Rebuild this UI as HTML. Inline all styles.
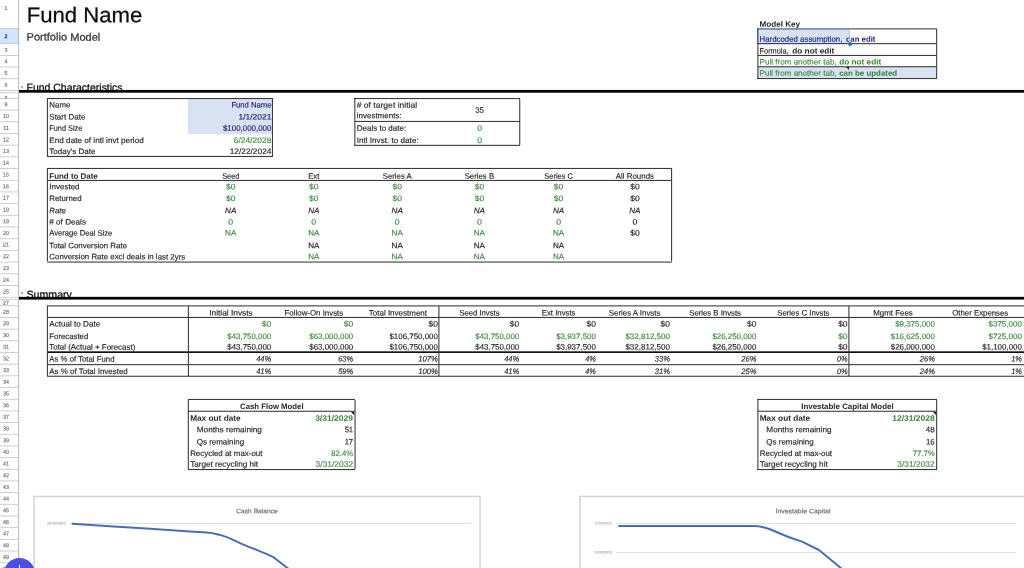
<!DOCTYPE html>
<html lang="en">
<head>
<meta charset="utf-8">
<title>Fund Name - Portfolio Model</title>
<style>
html,body{margin:0;padding:0;background:#fff;}
body{width:1024px;height:568px;position:relative;overflow:hidden;font-family:"Liberation Sans", sans-serif;}
#sheet{position:absolute;left:0;top:0;width:1024px;height:568px;overflow:hidden;background:#fff;}
#sheet div{position:absolute;}
#sheet svg{position:absolute;overflow:visible;}
.t{white-space:nowrap;transform-origin:0 0;-webkit-text-stroke:0.15px currentColor;}
</style>
</head>
<body>
<div id="sheet">
<div style="left:0.00px;top:29.00px;width:18.00px;height:15.00px;background:#d3e3fd;"></div>
<div style="left:0.00px;top:28.00px;width:18.00px;height:1.00px;background:rgba(198,198,198,0.850);"></div>
<div style="left:0.00px;top:43.00px;width:18.00px;height:1.00px;background:rgba(198,198,198,0.725);"></div>
<div style="left:0.00px;top:44.00px;width:18.00px;height:1.00px;background:rgba(198,198,198,0.125);"></div>
<div style="left:0.00px;top:55.00px;width:18.00px;height:1.00px;background:rgba(198,198,198,0.825);"></div>
<div style="left:0.00px;top:66.00px;width:18.00px;height:1.00px;background:rgba(198,198,198,0.425);"></div>
<div style="left:0.00px;top:67.00px;width:18.00px;height:1.00px;background:rgba(198,198,198,0.425);"></div>
<div style="left:0.00px;top:78.00px;width:18.00px;height:1.00px;background:rgba(198,198,198,0.725);"></div>
<div style="left:0.00px;top:79.00px;width:18.00px;height:1.00px;background:rgba(198,198,198,0.125);"></div>
<div style="left:0.00px;top:90.00px;width:18.00px;height:1.00px;background:rgba(198,198,198,0.850);"></div>
<div style="left:0.00px;top:92.00px;width:18.00px;height:1.00px;background:rgba(198,198,198,0.625);"></div>
<div style="left:0.00px;top:93.00px;width:18.00px;height:1.00px;background:rgba(198,198,198,0.225);"></div>
<div style="left:0.00px;top:98.00px;width:18.00px;height:1.00px;background:rgba(198,198,198,0.825);"></div>
<div style="left:0.00px;top:109.00px;width:18.00px;height:1.00px;background:rgba(198,198,198,0.335);"></div>
<div style="left:0.00px;top:110.00px;width:18.00px;height:1.00px;background:rgba(198,198,198,0.515);"></div>
<div style="left:0.00px;top:121.00px;width:18.00px;height:1.00px;background:rgba(198,198,198,0.645);"></div>
<div style="left:0.00px;top:122.00px;width:18.00px;height:1.00px;background:rgba(198,198,198,0.205);"></div>
<div style="left:0.00px;top:133.00px;width:18.00px;height:1.00px;background:rgba(198,198,198,0.850);"></div>
<div style="left:0.00px;top:144.00px;width:18.00px;height:1.00px;background:rgba(198,198,198,0.265);"></div>
<div style="left:0.00px;top:145.00px;width:18.00px;height:1.00px;background:rgba(198,198,198,0.585);"></div>
<div style="left:0.00px;top:156.00px;width:18.00px;height:1.00px;background:rgba(198,198,198,0.575);"></div>
<div style="left:0.00px;top:157.00px;width:18.00px;height:1.00px;background:rgba(198,198,198,0.275);"></div>
<div style="left:0.00px;top:168.00px;width:18.00px;height:1.00px;background:rgba(198,198,198,0.850);"></div>
<div style="left:0.00px;top:179.00px;width:18.00px;height:1.00px;background:rgba(198,198,198,0.195);"></div>
<div style="left:0.00px;top:180.00px;width:18.00px;height:1.00px;background:rgba(198,198,198,0.655);"></div>
<div style="left:0.00px;top:191.00px;width:18.00px;height:1.00px;background:rgba(198,198,198,0.505);"></div>
<div style="left:0.00px;top:192.00px;width:18.00px;height:1.00px;background:rgba(198,198,198,0.345);"></div>
<div style="left:0.00px;top:203.00px;width:18.00px;height:1.00px;background:rgba(198,198,198,0.815);"></div>
<div style="left:0.00px;top:214.00px;width:18.00px;height:1.00px;background:rgba(198,198,198,0.125);"></div>
<div style="left:0.00px;top:215.00px;width:18.00px;height:1.00px;background:rgba(198,198,198,0.725);"></div>
<div style="left:0.00px;top:226.00px;width:18.00px;height:1.00px;background:rgba(198,198,198,0.435);"></div>
<div style="left:0.00px;top:227.00px;width:18.00px;height:1.00px;background:rgba(198,198,198,0.415);"></div>
<div style="left:0.00px;top:238.00px;width:18.00px;height:1.00px;background:rgba(198,198,198,0.745);"></div>
<div style="left:0.00px;top:239.00px;width:18.00px;height:1.00px;background:rgba(198,198,198,0.105);"></div>
<div style="left:0.00px;top:249.00px;width:18.00px;height:1.00px;background:rgba(198,198,198,0.055);"></div>
<div style="left:0.00px;top:250.00px;width:18.00px;height:1.00px;background:rgba(198,198,198,0.795);"></div>
<div style="left:0.00px;top:261.00px;width:18.00px;height:1.00px;background:rgba(198,198,198,0.365);"></div>
<div style="left:0.00px;top:262.00px;width:18.00px;height:1.00px;background:rgba(198,198,198,0.485);"></div>
<div style="left:0.00px;top:273.00px;width:18.00px;height:1.00px;background:rgba(198,198,198,0.675);"></div>
<div style="left:0.00px;top:274.00px;width:18.00px;height:1.00px;background:rgba(198,198,198,0.175);"></div>
<div style="left:0.00px;top:285.00px;width:18.00px;height:1.00px;background:rgba(198,198,198,0.850);"></div>
<div style="left:0.00px;top:296.00px;width:18.00px;height:1.00px;background:rgba(198,198,198,0.125);"></div>
<div style="left:0.00px;top:297.00px;width:18.00px;height:1.00px;background:rgba(198,198,198,0.725);"></div>
<div style="left:0.00px;top:299.00px;width:18.00px;height:1.00px;background:rgba(198,198,198,0.825);"></div>
<div style="left:0.00px;top:305.00px;width:18.00px;height:1.00px;background:rgba(198,198,198,0.675);"></div>
<div style="left:0.00px;top:306.00px;width:18.00px;height:1.00px;background:rgba(198,198,198,0.175);"></div>
<div style="left:0.00px;top:317.00px;width:18.00px;height:1.00px;background:rgba(198,198,198,0.850);"></div>
<div style="left:0.00px;top:328.00px;width:18.00px;height:1.00px;background:rgba(198,198,198,0.315);"></div>
<div style="left:0.00px;top:329.00px;width:18.00px;height:1.00px;background:rgba(198,198,198,0.535);"></div>
<div style="left:0.00px;top:340.00px;width:18.00px;height:1.00px;background:rgba(198,198,198,0.635);"></div>
<div style="left:0.00px;top:341.00px;width:18.00px;height:1.00px;background:rgba(198,198,198,0.215);"></div>
<div style="left:0.00px;top:352.00px;width:18.00px;height:1.00px;background:rgba(198,198,198,0.850);"></div>
<div style="left:0.00px;top:363.00px;width:18.00px;height:1.00px;background:rgba(198,198,198,0.275);"></div>
<div style="left:0.00px;top:364.00px;width:18.00px;height:1.00px;background:rgba(198,198,198,0.575);"></div>
<div style="left:0.00px;top:375.00px;width:18.00px;height:1.00px;background:rgba(198,198,198,0.595);"></div>
<div style="left:0.00px;top:376.00px;width:18.00px;height:1.00px;background:rgba(198,198,198,0.255);"></div>
<div style="left:0.00px;top:387.00px;width:18.00px;height:1.00px;background:rgba(198,198,198,0.850);"></div>
<div style="left:0.00px;top:398.00px;width:18.00px;height:1.00px;background:rgba(198,198,198,0.235);"></div>
<div style="left:0.00px;top:399.00px;width:18.00px;height:1.00px;background:rgba(198,198,198,0.615);"></div>
<div style="left:0.00px;top:410.00px;width:18.00px;height:1.00px;background:rgba(198,198,198,0.555);"></div>
<div style="left:0.00px;top:411.00px;width:18.00px;height:1.00px;background:rgba(198,198,198,0.295);"></div>
<div style="left:0.00px;top:422.00px;width:18.00px;height:1.00px;background:rgba(198,198,198,0.850);"></div>
<div style="left:0.00px;top:433.00px;width:18.00px;height:1.00px;background:rgba(198,198,198,0.195);"></div>
<div style="left:0.00px;top:434.00px;width:18.00px;height:1.00px;background:rgba(198,198,198,0.655);"></div>
<div style="left:0.00px;top:445.00px;width:18.00px;height:1.00px;background:rgba(198,198,198,0.515);"></div>
<div style="left:0.00px;top:446.00px;width:18.00px;height:1.00px;background:rgba(198,198,198,0.335);"></div>
<div style="left:0.00px;top:457.00px;width:18.00px;height:1.00px;background:rgba(198,198,198,0.835);"></div>
<div style="left:0.00px;top:468.00px;width:18.00px;height:1.00px;background:rgba(198,198,198,0.155);"></div>
<div style="left:0.00px;top:469.00px;width:18.00px;height:1.00px;background:rgba(198,198,198,0.695);"></div>
<div style="left:0.00px;top:480.00px;width:18.00px;height:1.00px;background:rgba(198,198,198,0.475);"></div>
<div style="left:0.00px;top:481.00px;width:18.00px;height:1.00px;background:rgba(198,198,198,0.375);"></div>
<div style="left:0.00px;top:492.00px;width:18.00px;height:1.00px;background:rgba(198,198,198,0.795);"></div>
<div style="left:0.00px;top:493.00px;width:18.00px;height:1.00px;background:rgba(198,198,198,0.055);"></div>
<div style="left:0.00px;top:503.00px;width:18.00px;height:1.00px;background:rgba(198,198,198,0.115);"></div>
<div style="left:0.00px;top:504.00px;width:18.00px;height:1.00px;background:rgba(198,198,198,0.735);"></div>
<div style="left:0.00px;top:515.00px;width:18.00px;height:1.00px;background:rgba(198,198,198,0.435);"></div>
<div style="left:0.00px;top:516.00px;width:18.00px;height:1.00px;background:rgba(198,198,198,0.415);"></div>
<div style="left:0.00px;top:527.00px;width:18.00px;height:1.00px;background:rgba(198,198,198,0.755);"></div>
<div style="left:0.00px;top:528.00px;width:18.00px;height:1.00px;background:rgba(198,198,198,0.095);"></div>
<div style="left:0.00px;top:538.00px;width:18.00px;height:1.00px;background:rgba(198,198,198,0.075);"></div>
<div style="left:0.00px;top:539.00px;width:18.00px;height:1.00px;background:rgba(198,198,198,0.775);"></div>
<div style="left:0.00px;top:550.00px;width:18.00px;height:1.00px;background:rgba(198,198,198,0.395);"></div>
<div style="left:0.00px;top:551.00px;width:18.00px;height:1.00px;background:rgba(198,198,198,0.455);"></div>
<div style="left:0.00px;top:562.00px;width:18.00px;height:1.00px;background:rgba(198,198,198,0.715);"></div>
<div style="left:0.00px;top:563.00px;width:18.00px;height:1.00px;background:rgba(198,198,198,0.135);"></div>
<div style="left:18.00px;top:0.00px;width:1.00px;height:568.00px;background:rgba(180,180,180,0.875);"></div>
<div style="left:19.00px;top:0.00px;width:1.00px;height:568.00px;background:rgba(180,180,180,0.075);"></div>
<div class="t" style="left:4px;top:5px;font-size:5.8px;line-height:6px;color:#707070;transform:translate(0.60px,0.10px) rotate(0.04deg) scaleX(0.93);">1</div>
<div class="t" style="left:4px;top:33px;font-size:5.8px;line-height:6px;color:#0b2a5b;font-weight:bold;-webkit-text-stroke:0;transform:translate(0.60px,0.20px) rotate(0.04deg) scaleX(0.93);">2</div>
<div class="t" style="left:4px;top:46px;font-size:5.8px;line-height:6px;color:#707070;transform:translate(0.60px,0.65px) rotate(0.04deg) scaleX(0.93);">3</div>
<div class="t" style="left:4px;top:58px;font-size:5.8px;line-height:6px;color:#707070;transform:translate(0.60px,0.30px) rotate(0.04deg) scaleX(0.93);">4</div>
<div class="t" style="left:4px;top:69px;font-size:5.8px;line-height:6px;color:#707070;transform:translate(0.60px,0.95px) rotate(0.04deg) scaleX(0.93);">5</div>
<div class="t" style="left:4px;top:81px;font-size:5.8px;line-height:6px;color:#707070;transform:translate(0.60px,0.70px) rotate(0.04deg) scaleX(0.93);">6</div>
<div class="t" style="left:4px;top:94px;font-size:5.8px;line-height:6px;color:#707070;transform:translate(0.60px,0.70px) rotate(0.04deg) scaleX(0.93);clip-path:inset(0 0 2px 0);">8</div>
<div class="t" style="left:4px;top:101px;font-size:5.8px;line-height:6px;color:#707070;transform:translate(0.60px,0.35px) rotate(0.04deg) scaleX(0.93);">9</div>
<div class="t" style="left:3px;top:113px;font-size:5.8px;line-height:6px;color:#707070;transform:translate(0.10px,0.04px) rotate(0.04deg) scaleX(0.93);">10</div>
<div class="t" style="left:3px;top:124px;font-size:5.8px;line-height:6px;color:#707070;transform:translate(0.30px,0.72px) rotate(0.04deg) scaleX(0.93);">11</div>
<div class="t" style="left:3px;top:136px;font-size:5.8px;line-height:6px;color:#707070;transform:translate(0.10px,0.41px) rotate(0.04deg) scaleX(0.93);">12</div>
<div class="t" style="left:3px;top:148px;font-size:5.8px;line-height:6px;color:#707070;transform:translate(0.10px,0.10px) rotate(0.04deg) scaleX(0.93);">13</div>
<div class="t" style="left:3px;top:159px;font-size:5.8px;line-height:6px;color:#707070;transform:translate(0.10px,0.79px) rotate(0.04deg) scaleX(0.93);">14</div>
<div class="t" style="left:3px;top:171px;font-size:5.8px;line-height:6px;color:#707070;transform:translate(0.10px,0.49px) rotate(0.04deg) scaleX(0.93);">15</div>
<div class="t" style="left:3px;top:183px;font-size:5.8px;line-height:6px;color:#707070;transform:translate(0.10px,0.18px) rotate(0.04deg) scaleX(0.93);">16</div>
<div class="t" style="left:3px;top:194px;font-size:5.8px;line-height:6px;color:#707070;transform:translate(0.10px,0.87px) rotate(0.04deg) scaleX(0.93);">17</div>
<div class="t" style="left:3px;top:206px;font-size:5.8px;line-height:6px;color:#707070;transform:translate(0.10px,0.56px) rotate(0.04deg) scaleX(0.93);">18</div>
<div class="t" style="left:3px;top:218px;font-size:5.8px;line-height:6px;color:#707070;transform:translate(0.10px,0.25px) rotate(0.04deg) scaleX(0.93);">19</div>
<div class="t" style="left:3px;top:229px;font-size:5.8px;line-height:6px;color:#707070;transform:translate(0.10px,0.94px) rotate(0.04deg) scaleX(0.93);">20</div>
<div class="t" style="left:3px;top:241px;font-size:5.8px;line-height:6px;color:#707070;transform:translate(0.10px,0.62px) rotate(0.04deg) scaleX(0.93);">21</div>
<div class="t" style="left:3px;top:253px;font-size:5.8px;line-height:6px;color:#707070;transform:translate(0.10px,0.31px) rotate(0.04deg) scaleX(0.93);">22</div>
<div class="t" style="left:3px;top:265px;font-size:5.8px;line-height:6px;color:#707070;transform:translate(0.10px,0.00px) rotate(0.04deg) scaleX(0.93);">23</div>
<div class="t" style="left:3px;top:276px;font-size:5.8px;line-height:6px;color:#707070;transform:translate(0.10px,0.69px) rotate(0.04deg) scaleX(0.93);">24</div>
<div class="t" style="left:3px;top:288px;font-size:5.8px;line-height:6px;color:#707070;transform:translate(0.10px,0.47px) rotate(0.04deg) scaleX(0.93);">25</div>
<div class="t" style="left:3px;top:299px;font-size:5.8px;line-height:6px;color:#707070;transform:translate(0.10px,0.65px) rotate(0.04deg) scaleX(0.93);">27</div>
<div class="t" style="left:3px;top:308px;font-size:5.8px;line-height:6px;color:#707070;transform:translate(0.10px,0.69px) rotate(0.04deg) scaleX(0.93);">28</div>
<div class="t" style="left:3px;top:320px;font-size:5.8px;line-height:6px;color:#707070;transform:translate(0.10px,0.37px) rotate(0.04deg) scaleX(0.93);">29</div>
<div class="t" style="left:3px;top:332px;font-size:5.8px;line-height:6px;color:#707070;transform:translate(0.10px,0.05px) rotate(0.04deg) scaleX(0.93);">30</div>
<div class="t" style="left:3px;top:343px;font-size:5.8px;line-height:6px;color:#707070;transform:translate(0.10px,0.73px) rotate(0.04deg) scaleX(0.93);">31</div>
<div class="t" style="left:3px;top:355px;font-size:5.8px;line-height:6px;color:#707070;transform:translate(0.10px,0.41px) rotate(0.04deg) scaleX(0.93);">32</div>
<div class="t" style="left:3px;top:367px;font-size:5.8px;line-height:6px;color:#707070;transform:translate(0.10px,0.09px) rotate(0.04deg) scaleX(0.93);">33</div>
<div class="t" style="left:3px;top:378px;font-size:5.8px;line-height:6px;color:#707070;transform:translate(0.10px,0.77px) rotate(0.04deg) scaleX(0.93);">34</div>
<div class="t" style="left:3px;top:390px;font-size:5.8px;line-height:6px;color:#707070;transform:translate(0.10px,0.45px) rotate(0.04deg) scaleX(0.93);">35</div>
<div class="t" style="left:3px;top:402px;font-size:5.8px;line-height:6px;color:#707070;transform:translate(0.10px,0.13px) rotate(0.04deg) scaleX(0.93);">36</div>
<div class="t" style="left:3px;top:413px;font-size:5.8px;line-height:6px;color:#707070;transform:translate(0.10px,0.81px) rotate(0.04deg) scaleX(0.93);">37</div>
<div class="t" style="left:3px;top:425px;font-size:5.8px;line-height:6px;color:#707070;transform:translate(0.10px,0.49px) rotate(0.04deg) scaleX(0.93);">38</div>
<div class="t" style="left:3px;top:437px;font-size:5.8px;line-height:6px;color:#707070;transform:translate(0.10px,0.17px) rotate(0.04deg) scaleX(0.93);">39</div>
<div class="t" style="left:3px;top:448px;font-size:5.8px;line-height:6px;color:#707070;transform:translate(0.10px,0.85px) rotate(0.04deg) scaleX(0.93);">40</div>
<div class="t" style="left:3px;top:460px;font-size:5.8px;line-height:6px;color:#707070;transform:translate(0.10px,0.53px) rotate(0.04deg) scaleX(0.93);">41</div>
<div class="t" style="left:3px;top:472px;font-size:5.8px;line-height:6px;color:#707070;transform:translate(0.10px,0.21px) rotate(0.04deg) scaleX(0.93);">42</div>
<div class="t" style="left:3px;top:483px;font-size:5.8px;line-height:6px;color:#707070;transform:translate(0.10px,0.89px) rotate(0.04deg) scaleX(0.93);">43</div>
<div class="t" style="left:3px;top:495px;font-size:5.8px;line-height:6px;color:#707070;transform:translate(0.10px,0.57px) rotate(0.04deg) scaleX(0.93);">44</div>
<div class="t" style="left:3px;top:507px;font-size:5.8px;line-height:6px;color:#707070;transform:translate(0.10px,0.25px) rotate(0.04deg) scaleX(0.93);">45</div>
<div class="t" style="left:3px;top:518px;font-size:5.8px;line-height:6px;color:#707070;transform:translate(0.10px,0.93px) rotate(0.04deg) scaleX(0.93);">46</div>
<div class="t" style="left:3px;top:530px;font-size:5.8px;line-height:6px;color:#707070;transform:translate(0.10px,0.61px) rotate(0.04deg) scaleX(0.93);">47</div>
<div class="t" style="left:3px;top:542px;font-size:5.8px;line-height:6px;color:#707070;transform:translate(0.10px,0.29px) rotate(0.04deg) scaleX(0.93);">48</div>
<div class="t" style="left:3px;top:553px;font-size:5.8px;line-height:6px;color:#707070;transform:translate(0.10px,0.97px) rotate(0.04deg) scaleX(0.93);">49</div>
<div class="t" style="left:3px;top:565px;font-size:5.8px;line-height:6px;color:#707070;transform:translate(0.10px,0.65px) rotate(0.04deg) scaleX(0.93);">50</div>
<div class="t" style="left:26px;top:3px;font-size:21.4px;line-height:24px;color:#0c0c0c;transform:translate(0.70px,0.20px) rotate(0.04deg) scaleX(1.0342);-webkit-text-stroke:0.25px #0c0c0c;">Fund Name</div>
<div class="t" style="left:26px;top:30px;font-size:10.7px;line-height:12px;color:#3c3c3c;transform:translate(0.50px,0.60px) rotate(0.04deg) scaleX(1.0357);-webkit-text-stroke:0.3px #3c3c3c;">Portfolio Model</div>
<div style="left:19px;top:78px;width:400px;height:12px;overflow:hidden;"><div class="t" style="left:7px;top:3px;font-size:10.5px;line-height:12px;color:#0c0c0c;-webkit-text-stroke:0.25px #0c0c0c;transform:translate(0.5px,0.00px) rotate(0.04deg) scaleX(0.998);">Fund Characteristics</div><div style="left:2.0px;top:8px;width:2.4px;height:2.4px;background:#acacac;"></div></div>
<div style="left:19.00px;top:89.00px;width:1005.00px;height:1.00px;background:rgba(0,0,0,0.050);"></div>
<div style="left:19.00px;top:90.00px;width:1005.00px;height:1.00px;background:rgba(0,0,0,1.000);"></div>
<div style="left:19.00px;top:91.00px;width:1005.00px;height:1.00px;background:rgba(0,0,0,1.000);"></div>
<div style="left:19.00px;top:92.00px;width:1005.00px;height:1.00px;background:rgba(0,0,0,0.700);"></div>
<div style="left:19px;top:285px;width:400px;height:12px;overflow:hidden;"><div class="t" style="left:7px;top:2px;font-size:10.5px;line-height:12px;color:#0c0c0c;-webkit-text-stroke:0.25px #0c0c0c;transform:translate(0.5px,0.90px) rotate(0.04deg) scaleX(1.0103);">Summary</div><div style="left:2.0px;top:7px;width:2.4px;height:2.4px;background:#acacac;"></div></div>
<div style="left:19.00px;top:296.00px;width:1005.00px;height:1.00px;background:rgba(0,0,0,0.150);"></div>
<div style="left:19.00px;top:297.00px;width:1005.00px;height:1.00px;background:rgba(0,0,0,1.000);"></div>
<div style="left:19.00px;top:298.00px;width:1005.00px;height:1.00px;background:rgba(0,0,0,1.000);"></div>
<div style="left:19.00px;top:299.00px;width:1005.00px;height:1.00px;background:rgba(0,0,0,0.600);"></div>
<div class="t" style="left:759px;top:19px;font-size:7.9px;line-height:9px;color:#262626;font-weight:bold;-webkit-text-stroke:0;transform:translate(0.60px,0.80px) rotate(0.04deg) scaleX(1.0255);">Model Key</div>
<div style="left:758.00px;top:29.00px;width:91.00px;height:15.00px;background:#d9e2f3;"></div>
<div style="left:758.00px;top:67.00px;width:179.00px;height:11.50px;background:#d9e2f3;"></div>
<div style="left:757.00px;top:28.00px;width:180.00px;height:1.00px;background:rgba(52,52,52,0.625);"></div>
<div style="left:757.00px;top:29.00px;width:180.00px;height:1.00px;background:rgba(52,52,52,0.425);"></div>
<div style="left:757.00px;top:78.00px;width:180.00px;height:1.00px;background:rgba(52,52,52,0.975);"></div>
<div style="left:757.00px;top:79.00px;width:180.00px;height:1.00px;background:rgba(52,52,52,0.075);"></div>
<div style="left:757.00px;top:29.00px;width:1.00px;height:49.00px;background:rgba(52,52,52,0.625);"></div>
<div style="left:758.00px;top:29.00px;width:1.00px;height:49.00px;background:rgba(52,52,52,0.425);"></div>
<div style="left:936.00px;top:29.00px;width:1.00px;height:49.00px;background:rgba(52,52,52,0.875);"></div>
<div style="left:937.00px;top:29.00px;width:1.00px;height:49.00px;background:rgba(52,52,52,0.175);"></div>
<div style="left:758.00px;top:43.00px;width:178.00px;height:1.00px;background:rgba(52,52,52,0.875);"></div>
<div style="left:758.00px;top:44.00px;width:178.00px;height:1.00px;background:rgba(52,52,52,0.175);"></div>
<div style="left:758.00px;top:54.00px;width:178.00px;height:1.00px;background:rgba(52,52,52,0.075);"></div>
<div style="left:758.00px;top:55.00px;width:178.00px;height:1.00px;background:rgba(52,52,52,0.975);"></div>
<div style="left:758.00px;top:66.00px;width:178.00px;height:1.00px;background:rgba(52,52,52,0.775);"></div>
<div style="left:758.00px;top:67.00px;width:178.00px;height:1.00px;background:rgba(52,52,52,0.275);"></div>
<div class="t" style="left:759px;top:34px;font-size:7.9px;line-height:9px;color:#20207c;transform:translate(0.60px,0.70px) rotate(0.04deg) scaleX(0.9932);">Hardcoded assumption,</div>
<div class="t" style="left:846px;top:34px;font-size:7.9px;line-height:9px;color:#20207c;font-weight:bold;-webkit-text-stroke:0;transform:translate(0.00px,0.70px) rotate(0.04deg) scaleX(0.9881);">can edit</div>
<div class="t" style="left:759px;top:46px;font-size:7.9px;line-height:9px;color:#262626;transform:translate(0.60px,0.50px) rotate(0.04deg) scaleX(0.9304);">Formula,</div>
<div class="t" style="left:792px;top:46px;font-size:7.9px;line-height:9px;color:#262626;font-weight:bold;-webkit-text-stroke:0;transform:translate(0.30px,0.50px) rotate(0.04deg) scaleX(1.0408);">do not edit</div>
<div class="t" style="left:759px;top:57px;font-size:7.9px;line-height:9px;color:#408c40;transform:translate(0.60px,0.50px) rotate(0.04deg) scaleX(1.0215);">Pull from another tab,</div>
<div class="t" style="left:839px;top:57px;font-size:7.9px;line-height:9px;color:#348334;font-weight:bold;-webkit-text-stroke:0;transform:translate(0.20px,0.50px) rotate(0.04deg) scaleX(1.0408);">do not edit</div>
<div class="t" style="left:759px;top:68px;font-size:7.9px;line-height:9px;color:#408c40;transform:translate(0.60px,0.80px) rotate(0.04deg) scaleX(1.0215);">Pull from another tab,</div>
<div class="t" style="left:839px;top:68px;font-size:7.9px;line-height:9px;color:#348334;font-weight:bold;-webkit-text-stroke:0;transform:translate(0.20px,0.80px) rotate(0.04deg) scaleX(1.0017);">can be updated</div>
<svg style="left:845.8px;top:67.2px" width="3" height="3" viewBox="0 0 3 3"><polygon points="0,0 3,0 3,3" fill="#222"/></svg>
<div style="left:758.00px;top:28.00px;width:91.00px;height:1.00px;background:#7d8fc4;"></div>
<div style="left:757.00px;top:28.00px;width:1.00px;height:16.00px;background:#3c5fc0;"></div>
<div style="left:849.00px;top:29.00px;width:1.00px;height:14.00px;background:#b9c6ea;"></div>
<div style="left:757.00px;top:43.00px;width:92.00px;height:1.00px;background:#2a3f9c;"></div>
<div style="left:847.6px;top:41.7px;width:4.6px;height:4.6px;border-radius:50%;background:#2c6ad9;"></div>
<div style="left:188.00px;top:99.00px;width:84.00px;height:34.60px;background:#d9e2f3;"></div>
<div style="left:47.00px;top:98.00px;width:226.00px;height:1.00px;background:rgba(52,52,52,0.975);"></div>
<div style="left:47.00px;top:99.00px;width:226.00px;height:1.00px;background:rgba(52,52,52,0.075);"></div>
<div style="left:47.00px;top:155.00px;width:226.00px;height:1.00px;background:rgba(52,52,52,0.075);"></div>
<div style="left:47.00px;top:156.00px;width:226.00px;height:1.00px;background:rgba(52,52,52,0.975);"></div>
<div style="left:46.00px;top:99.00px;width:1.00px;height:57.00px;background:rgba(52,52,52,0.125);"></div>
<div style="left:47.00px;top:99.00px;width:1.00px;height:57.00px;background:rgba(52,52,52,0.925);"></div>
<div style="left:271.00px;top:99.00px;width:1.00px;height:57.00px;background:rgba(52,52,52,0.075);"></div>
<div style="left:272.00px;top:99.00px;width:1.00px;height:57.00px;background:rgba(52,52,52,0.975);"></div>
<div class="t" style="left:49px;top:100px;font-size:7.9px;line-height:9px;color:#262626;transform:translate(0.30px,0.50px) rotate(0.04deg) scaleX(1.0005);">Name</div>
<div class="t" style="left:49px;top:112px;font-size:7.9px;line-height:9px;color:#262626;transform:translate(0.30px,0.60px) rotate(0.04deg) scaleX(1.0153);">Start Date</div>
<div class="t" style="left:49px;top:123px;font-size:7.9px;line-height:9px;color:#262626;transform:translate(0.30px,0.70px) rotate(0.04deg) scaleX(0.928);">Fund Size</div>
<div class="t" style="left:49px;top:135px;font-size:7.9px;line-height:9px;color:#262626;transform:translate(0.30px,0.90px) rotate(0.04deg) scaleX(1.0353);">End date of intl invt period</div>
<div class="t" style="left:49px;top:147px;font-size:7.9px;line-height:9px;color:#262626;transform:translate(0.30px,0.00px) rotate(0.04deg) scaleX(1.0154);">Today's Date</div>
<div class="t" style="left:231px;top:100px;font-size:7.9px;line-height:9px;color:#20207c;transform:translate(0.43px,0.50px) rotate(0.04deg) scaleX(0.9694);">Fund Name</div>
<div class="t" style="left:238px;top:112px;font-size:7.9px;line-height:9px;color:#20207c;transform:translate(0.43px,0.60px) rotate(0.04deg) scaleX(1.0734);">1/1/2021</div>
<div class="t" style="left:222px;top:123px;font-size:7.9px;line-height:9px;color:#20207c;transform:translate(0.93px,0.70px) rotate(0.04deg) scaleX(1.004);">$100,000,000</div>
<div class="t" style="left:233px;top:135px;font-size:7.9px;line-height:9px;color:#408c40;transform:translate(0.73px,0.90px) rotate(0.04deg) scaleX(1.073);">6/24/2028</div>
<div class="t" style="left:229px;top:147px;font-size:7.9px;line-height:9px;color:#262626;transform:translate(0.73px,0.00px) rotate(0.04deg) scaleX(1.055);">12/22/2024</div>
<div style="left:354.00px;top:98.00px;width:166.00px;height:1.00px;background:rgba(52,52,52,0.975);"></div>
<div style="left:354.00px;top:99.00px;width:166.00px;height:1.00px;background:rgba(52,52,52,0.075);"></div>
<div style="left:354.00px;top:144.00px;width:166.00px;height:1.00px;background:rgba(52,52,52,0.175);"></div>
<div style="left:354.00px;top:145.00px;width:166.00px;height:1.00px;background:rgba(52,52,52,0.875);"></div>
<div style="left:354.00px;top:99.00px;width:1.00px;height:46.00px;background:rgba(52,52,52,0.675);"></div>
<div style="left:355.00px;top:99.00px;width:1.00px;height:46.00px;background:rgba(52,52,52,0.375);"></div>
<div style="left:519.00px;top:99.00px;width:1.00px;height:46.00px;background:rgba(52,52,52,0.775);"></div>
<div style="left:520.00px;top:99.00px;width:1.00px;height:46.00px;background:rgba(52,52,52,0.275);"></div>
<div style="left:355.00px;top:120.00px;width:165.00px;height:1.00px;background:rgba(52,52,52,0.075);"></div>
<div style="left:355.00px;top:121.00px;width:165.00px;height:1.00px;background:rgba(52,52,52,0.975);"></div>
<div class="t" style="left:356px;top:100px;font-size:7.9px;line-height:9px;color:#262626;transform:translate(0.70px,0.80px) rotate(0.04deg) scaleX(1.0853);"># of target initial</div>
<div class="t" style="left:356px;top:111px;font-size:7.9px;line-height:9px;color:#262626;transform:translate(0.70px,0.20px) rotate(0.04deg) scaleX(1.0153);">investments:</div>
<div class="t" style="left:356px;top:123px;font-size:7.9px;line-height:9px;color:#262626;transform:translate(0.70px,0.70px) rotate(0.04deg) scaleX(1.0158);">Deals to date:</div>
<div class="t" style="left:356px;top:135px;font-size:7.9px;line-height:9px;color:#262626;transform:translate(0.70px,0.90px) rotate(0.04deg) scaleX(1.0313);">Intl Invst. to date:</div>
<div class="t" style="left:475px;top:105px;font-size:7.9px;line-height:9px;color:#262626;transform:translate(0.21px,0.70px) rotate(0.04deg) scaleX(0.9992);">35</div>
<div class="t" style="left:477px;top:123px;font-size:7.9px;line-height:9px;color:#408c40;transform:translate(0.21px,0.70px) rotate(0.04deg) scaleX(1.0873);">0</div>
<div class="t" style="left:477px;top:135px;font-size:7.9px;line-height:9px;color:#408c40;transform:translate(0.21px,0.90px) rotate(0.04deg) scaleX(1.0873);">0</div>
<div style="left:47.00px;top:167.00px;width:625.00px;height:1.00px;background:rgba(52,52,52,0.075);"></div>
<div style="left:47.00px;top:168.00px;width:625.00px;height:1.00px;background:rgba(52,52,52,0.975);"></div>
<div style="left:47.00px;top:261.00px;width:625.00px;height:1.00px;background:rgba(52,52,52,0.475);"></div>
<div style="left:47.00px;top:262.00px;width:625.00px;height:1.00px;background:rgba(52,52,52,0.575);"></div>
<div style="left:46.00px;top:169.00px;width:1.00px;height:92.00px;background:rgba(52,52,52,0.125);"></div>
<div style="left:47.00px;top:169.00px;width:1.00px;height:92.00px;background:rgba(52,52,52,0.925);"></div>
<div style="left:671.00px;top:169.00px;width:1.00px;height:92.00px;background:rgba(52,52,52,0.925);"></div>
<div style="left:672.00px;top:169.00px;width:1.00px;height:92.00px;background:rgba(52,52,52,0.125);"></div>
<div style="left:47.00px;top:179.00px;width:624.00px;height:1.00px;background:rgba(52,52,52,0.075);"></div>
<div style="left:47.00px;top:180.00px;width:624.00px;height:1.00px;background:rgba(52,52,52,0.975);"></div>
<div class="t" style="left:49px;top:171px;font-size:7.9px;line-height:9px;color:#262626;font-weight:bold;-webkit-text-stroke:0;transform:translate(0.30px,0.70px) rotate(0.04deg) scaleX(1.0053);">Fund to Date</div>
<div class="t" style="left:222px;top:171px;font-size:7.9px;line-height:9px;color:#262626;transform:translate(0.14px,0.70px) rotate(0.04deg) scaleX(0.9342);">Seed</div>
<div class="t" style="left:308px;top:171px;font-size:7.9px;line-height:9px;color:#262626;transform:translate(0.19px,0.70px) rotate(0.04deg) scaleX(0.984);">Ext</div>
<div class="t" style="left:382px;top:171px;font-size:7.9px;line-height:9px;color:#262626;transform:translate(0.76px,0.70px) rotate(0.04deg) scaleX(0.9858);">Series A</div>
<div class="t" style="left:464px;top:171px;font-size:7.9px;line-height:9px;color:#262626;transform:translate(0.66px,0.70px) rotate(0.04deg) scaleX(0.9881);">Series B</div>
<div class="t" style="left:544px;top:171px;font-size:7.9px;line-height:9px;color:#262626;transform:translate(0.36px,0.70px) rotate(0.04deg) scaleX(0.9408);">Series C</div>
<div class="t" style="left:615px;top:171px;font-size:7.9px;line-height:9px;color:#262626;transform:translate(0.79px,0.70px) rotate(0.04deg) scaleX(1.0014);">All Rounds</div>
<div class="t" style="left:49px;top:182px;font-size:7.9px;line-height:9px;color:#262626;transform:translate(0.30px,0.30px) rotate(0.04deg) scaleX(1.0144);">Invested</div>
<div class="t" style="left:226px;top:182px;font-size:7.9px;line-height:9px;color:#408c40;transform:translate(0.01px,0.30px) rotate(0.04deg) scaleX(1.0789);">$0</div>
<div class="t" style="left:309px;top:182px;font-size:7.9px;line-height:9px;color:#408c40;transform:translate(0.06px,0.30px) rotate(0.04deg) scaleX(1.0789);">$0</div>
<div class="t" style="left:392px;top:182px;font-size:7.9px;line-height:9px;color:#408c40;transform:translate(0.51px,0.30px) rotate(0.04deg) scaleX(1.0789);">$0</div>
<div class="t" style="left:474px;top:182px;font-size:7.9px;line-height:9px;color:#408c40;transform:translate(0.66px,0.30px) rotate(0.04deg) scaleX(1.0789);">$0</div>
<div class="t" style="left:553px;top:182px;font-size:7.9px;line-height:9px;color:#408c40;transform:translate(0.86px,0.30px) rotate(0.04deg) scaleX(1.0789);">$0</div>
<div class="t" style="left:630px;top:182px;font-size:7.9px;line-height:9px;color:#262626;transform:translate(0.16px,0.30px) rotate(0.04deg) scaleX(1.0789);">$0</div>
<div class="t" style="left:49px;top:194px;font-size:7.9px;line-height:9px;color:#262626;transform:translate(0.30px,0.00px) rotate(0.04deg) scaleX(0.994);">Returned</div>
<div class="t" style="left:226px;top:194px;font-size:7.9px;line-height:9px;color:#408c40;transform:translate(0.01px,0.00px) rotate(0.04deg) scaleX(1.0789);">$0</div>
<div class="t" style="left:309px;top:194px;font-size:7.9px;line-height:9px;color:#408c40;transform:translate(0.06px,0.00px) rotate(0.04deg) scaleX(1.0789);">$0</div>
<div class="t" style="left:392px;top:194px;font-size:7.9px;line-height:9px;color:#408c40;transform:translate(0.51px,0.00px) rotate(0.04deg) scaleX(1.0789);">$0</div>
<div class="t" style="left:474px;top:194px;font-size:7.9px;line-height:9px;color:#408c40;transform:translate(0.66px,0.00px) rotate(0.04deg) scaleX(1.0789);">$0</div>
<div class="t" style="left:553px;top:194px;font-size:7.9px;line-height:9px;color:#408c40;transform:translate(0.86px,0.00px) rotate(0.04deg) scaleX(1.0789);">$0</div>
<div class="t" style="left:630px;top:194px;font-size:7.9px;line-height:9px;color:#262626;transform:translate(0.16px,0.00px) rotate(0.04deg) scaleX(1.0789);">$0</div>
<div class="t" style="left:49px;top:206px;font-size:7.9px;line-height:9px;color:#262626;font-style:italic;transform:translate(0.30px,0.20px) rotate(0.04deg) scaleX(0.9881);">Rate</div>
<div class="t" style="left:225px;top:206px;font-size:7.9px;line-height:9px;color:#262626;font-style:italic;transform:translate(0.11px,0.20px) rotate(0.04deg) scaleX(1.0278);">NA</div>
<div class="t" style="left:308px;top:206px;font-size:7.9px;line-height:9px;color:#262626;font-style:italic;transform:translate(0.16px,0.20px) rotate(0.04deg) scaleX(1.0278);">NA</div>
<div class="t" style="left:391px;top:206px;font-size:7.9px;line-height:9px;color:#262626;font-style:italic;transform:translate(0.61px,0.20px) rotate(0.04deg) scaleX(1.0278);">NA</div>
<div class="t" style="left:473px;top:206px;font-size:7.9px;line-height:9px;color:#262626;font-style:italic;transform:translate(0.76px,0.20px) rotate(0.04deg) scaleX(1.0278);">NA</div>
<div class="t" style="left:552px;top:206px;font-size:7.9px;line-height:9px;color:#262626;font-style:italic;transform:translate(0.96px,0.20px) rotate(0.04deg) scaleX(1.0278);">NA</div>
<div class="t" style="left:629px;top:206px;font-size:7.9px;line-height:9px;color:#262626;font-style:italic;transform:translate(0.26px,0.20px) rotate(0.04deg) scaleX(1.0278);">NA</div>
<div class="t" style="left:49px;top:217px;font-size:7.9px;line-height:9px;color:#262626;transform:translate(0.30px,0.50px) rotate(0.04deg) scaleX(1.0322);"># of Deals</div>
<div class="t" style="left:228px;top:217px;font-size:7.9px;line-height:9px;color:#408c40;transform:translate(0.31px,0.50px) rotate(0.04deg) scaleX(1.1101);">0</div>
<div class="t" style="left:311px;top:217px;font-size:7.9px;line-height:9px;color:#408c40;transform:translate(0.36px,0.50px) rotate(0.04deg) scaleX(1.1101);">0</div>
<div class="t" style="left:394px;top:217px;font-size:7.9px;line-height:9px;color:#408c40;transform:translate(0.81px,0.50px) rotate(0.04deg) scaleX(1.1101);">0</div>
<div class="t" style="left:476px;top:217px;font-size:7.9px;line-height:9px;color:#408c40;transform:translate(0.96px,0.50px) rotate(0.04deg) scaleX(1.1101);">0</div>
<div class="t" style="left:556px;top:217px;font-size:7.9px;line-height:9px;color:#408c40;transform:translate(0.16px,0.50px) rotate(0.04deg) scaleX(1.1101);">0</div>
<div class="t" style="left:632px;top:217px;font-size:7.9px;line-height:9px;color:#262626;transform:translate(0.46px,0.50px) rotate(0.04deg) scaleX(1.1101);">0</div>
<div class="t" style="left:49px;top:228px;font-size:7.9px;line-height:9px;color:#262626;transform:translate(0.30px,0.60px) rotate(0.04deg) scaleX(0.9656);">Average Deal Size</div>
<div class="t" style="left:225px;top:228px;font-size:7.9px;line-height:9px;color:#408c40;transform:translate(0.11px,0.60px) rotate(0.04deg) scaleX(1.0278);">NA</div>
<div class="t" style="left:308px;top:228px;font-size:7.9px;line-height:9px;color:#408c40;transform:translate(0.16px,0.60px) rotate(0.04deg) scaleX(1.0278);">NA</div>
<div class="t" style="left:391px;top:228px;font-size:7.9px;line-height:9px;color:#408c40;transform:translate(0.61px,0.60px) rotate(0.04deg) scaleX(1.0278);">NA</div>
<div class="t" style="left:473px;top:228px;font-size:7.9px;line-height:9px;color:#408c40;transform:translate(0.76px,0.60px) rotate(0.04deg) scaleX(1.0278);">NA</div>
<div class="t" style="left:552px;top:228px;font-size:7.9px;line-height:9px;color:#408c40;transform:translate(0.96px,0.60px) rotate(0.04deg) scaleX(1.0278);">NA</div>
<div class="t" style="left:630px;top:228px;font-size:7.9px;line-height:9px;color:#262626;transform:translate(0.16px,0.60px) rotate(0.04deg) scaleX(1.0789);">$0</div>
<div class="t" style="left:49px;top:241px;font-size:7.9px;line-height:9px;color:#262626;transform:translate(0.30px,0.30px) rotate(0.04deg) scaleX(1.0017);">Total Conversion Rate</div>
<div class="t" style="left:308px;top:241px;font-size:7.9px;line-height:9px;color:#262626;transform:translate(0.16px,0.30px) rotate(0.04deg) scaleX(1.0278);">NA</div>
<div class="t" style="left:391px;top:241px;font-size:7.9px;line-height:9px;color:#262626;transform:translate(0.61px,0.30px) rotate(0.04deg) scaleX(1.0278);">NA</div>
<div class="t" style="left:473px;top:241px;font-size:7.9px;line-height:9px;color:#262626;transform:translate(0.76px,0.30px) rotate(0.04deg) scaleX(1.0278);">NA</div>
<div class="t" style="left:552px;top:241px;font-size:7.9px;line-height:9px;color:#262626;transform:translate(0.96px,0.30px) rotate(0.04deg) scaleX(1.0278);">NA</div>
<div class="t" style="left:49px;top:252px;font-size:7.9px;line-height:9px;color:#262626;transform:translate(0.30px,0.30px) rotate(0.04deg) scaleX(1.0);">Conversion Rate excl deals in last 2yrs</div>
<div class="t" style="left:308px;top:252px;font-size:7.9px;line-height:9px;color:#408c40;transform:translate(0.16px,0.30px) rotate(0.04deg) scaleX(1.0278);">NA</div>
<div class="t" style="left:391px;top:252px;font-size:7.9px;line-height:9px;color:#408c40;transform:translate(0.61px,0.30px) rotate(0.04deg) scaleX(1.0278);">NA</div>
<div class="t" style="left:473px;top:252px;font-size:7.9px;line-height:9px;color:#408c40;transform:translate(0.76px,0.30px) rotate(0.04deg) scaleX(1.0278);">NA</div>
<div class="t" style="left:552px;top:252px;font-size:7.9px;line-height:9px;color:#408c40;transform:translate(0.96px,0.30px) rotate(0.04deg) scaleX(1.0278);">NA</div>
<div style="left:47.00px;top:305.00px;width:977.00px;height:1.00px;background:rgba(52,52,52,0.625);"></div>
<div style="left:47.00px;top:306.00px;width:977.00px;height:1.00px;background:rgba(52,52,52,0.425);"></div>
<div style="left:47.00px;top:316.00px;width:977.00px;height:1.00px;background:rgba(52,52,52,0.075);"></div>
<div style="left:47.00px;top:317.00px;width:977.00px;height:1.00px;background:rgba(52,52,52,0.975);"></div>
<div style="left:47.00px;top:351.00px;width:977.00px;height:1.00px;background:rgba(17,17,17,0.700);"></div>
<div style="left:47.00px;top:352.00px;width:977.00px;height:1.00px;background:rgba(17,17,17,1.000);"></div>
<div style="left:47.00px;top:364.00px;width:977.00px;height:1.00px;background:rgba(52,52,52,0.875);"></div>
<div style="left:47.00px;top:365.00px;width:977.00px;height:1.00px;background:rgba(52,52,52,0.175);"></div>
<div style="left:47.00px;top:375.00px;width:977.00px;height:1.00px;background:rgba(52,52,52,0.275);"></div>
<div style="left:47.00px;top:376.00px;width:977.00px;height:1.00px;background:rgba(52,52,52,0.775);"></div>
<div style="left:46.00px;top:306.00px;width:1.00px;height:70.00px;background:rgba(52,52,52,0.125);"></div>
<div style="left:47.00px;top:306.00px;width:1.00px;height:70.00px;background:rgba(52,52,52,0.925);"></div>
<div style="left:187.00px;top:306.00px;width:1.00px;height:70.00px;background:rgba(52,52,52,0.125);"></div>
<div style="left:188.00px;top:306.00px;width:1.00px;height:70.00px;background:rgba(52,52,52,0.925);"></div>
<div style="left:438.00px;top:306.00px;width:1.00px;height:70.00px;background:rgba(52,52,52,0.625);"></div>
<div style="left:439.00px;top:306.00px;width:1.00px;height:70.00px;background:rgba(52,52,52,0.425);"></div>
<div style="left:848.00px;top:306.00px;width:1.00px;height:70.00px;background:rgba(52,52,52,0.625);"></div>
<div style="left:849.00px;top:306.00px;width:1.00px;height:70.00px;background:rgba(52,52,52,0.425);"></div>
<div class="t" style="left:209px;top:308px;font-size:7.9px;line-height:9px;color:#262626;transform:translate(0.26px,0.60px) rotate(0.04deg) scaleX(1.0543);">Initial Invsts</div>
<div class="t" style="left:284px;top:308px;font-size:7.9px;line-height:9px;color:#262626;transform:translate(0.54px,0.60px) rotate(0.04deg) scaleX(0.9993);">Follow-On Invsts</div>
<div class="t" style="left:368px;top:308px;font-size:7.9px;line-height:9px;color:#262626;transform:translate(0.79px,0.60px) rotate(0.04deg) scaleX(1.0134);">Total Investment</div>
<div class="t" style="left:459px;top:308px;font-size:7.9px;line-height:9px;color:#262626;transform:translate(0.51px,0.60px) rotate(0.04deg) scaleX(0.9694);">Seed Invsts</div>
<div class="t" style="left:541px;top:308px;font-size:7.9px;line-height:9px;color:#262626;transform:translate(0.74px,0.60px) rotate(0.04deg) scaleX(0.986);">Ext Invsts</div>
<div class="t" style="left:608px;top:308px;font-size:7.9px;line-height:9px;color:#262626;transform:translate(0.74px,0.60px) rotate(0.04deg) scaleX(0.9992);">Series A Invsts</div>
<div class="t" style="left:689px;top:308px;font-size:7.9px;line-height:9px;color:#262626;transform:translate(0.24px,0.60px) rotate(0.04deg) scaleX(0.9829);">Series B Invsts</div>
<div class="t" style="left:777px;top:308px;font-size:7.9px;line-height:9px;color:#262626;transform:translate(0.29px,0.60px) rotate(0.04deg) scaleX(0.9842);">Series C Invsts</div>
<div class="t" style="left:873px;top:308px;font-size:7.9px;line-height:9px;color:#262626;transform:translate(0.26px,0.60px) rotate(0.04deg) scaleX(1.0001);">Mgmt Fees</div>
<div class="t" style="left:952px;top:308px;font-size:7.9px;line-height:9px;color:#262626;transform:translate(0.26px,0.60px) rotate(0.04deg) scaleX(0.989);">Other Expenses</div>
<div class="t" style="left:49px;top:319px;font-size:7.9px;line-height:9px;color:#262626;transform:translate(0.30px,0.50px) rotate(0.04deg) scaleX(1.0282);">Actual to Date</div>
<div class="t" style="left:261px;top:319px;font-size:7.9px;line-height:9px;color:#408c40;transform:translate(0.73px,0.50px) rotate(0.04deg) scaleX(1.0789);">$0</div>
<div class="t" style="left:343px;top:319px;font-size:7.9px;line-height:9px;color:#408c40;transform:translate(0.73px,0.50px) rotate(0.04deg) scaleX(1.0789);">$0</div>
<div class="t" style="left:428px;top:319px;font-size:7.9px;line-height:9px;color:#262626;transform:translate(0.43px,0.50px) rotate(0.04deg) scaleX(1.0789);">$0</div>
<div class="t" style="left:509px;top:319px;font-size:7.9px;line-height:9px;color:#262626;transform:translate(0.73px,0.50px) rotate(0.04deg) scaleX(1.0789);">$0</div>
<div class="t" style="left:586px;top:319px;font-size:7.9px;line-height:9px;color:#262626;transform:translate(0.43px,0.50px) rotate(0.04deg) scaleX(1.0789);">$0</div>
<div class="t" style="left:660px;top:319px;font-size:7.9px;line-height:9px;color:#262626;transform:translate(0.43px,0.50px) rotate(0.04deg) scaleX(1.0789);">$0</div>
<div class="t" style="left:746px;top:319px;font-size:7.9px;line-height:9px;color:#262626;transform:translate(0.93px,0.50px) rotate(0.04deg) scaleX(1.0789);">$0</div>
<div class="t" style="left:838px;top:319px;font-size:7.9px;line-height:9px;color:#262626;transform:translate(0.13px,0.50px) rotate(0.04deg) scaleX(1.0789);">$0</div>
<div class="t" style="left:895px;top:319px;font-size:7.9px;line-height:9px;color:#408c40;transform:translate(0.13px,0.50px) rotate(0.04deg) scaleX(1.0069);">$9,375,000</div>
<div class="t" style="left:988px;top:319px;font-size:7.9px;line-height:9px;color:#408c40;transform:translate(0.43px,0.50px) rotate(0.04deg) scaleX(1.0168);">$375,000</div>
<div class="t" style="left:49px;top:331px;font-size:7.9px;line-height:9px;color:#262626;transform:translate(0.30px,0.90px) rotate(0.04deg) scaleX(0.9871);">Forecasted</div>
<div class="t" style="left:227px;top:331px;font-size:7.9px;line-height:9px;color:#408c40;transform:translate(0.33px,0.90px) rotate(0.04deg) scaleX(0.9996);">$43,750,000</div>
<div class="t" style="left:309px;top:331px;font-size:7.9px;line-height:9px;color:#408c40;transform:translate(0.33px,0.90px) rotate(0.04deg) scaleX(0.9996);">$63,000,000</div>
<div class="t" style="left:389px;top:331px;font-size:7.9px;line-height:9px;color:#262626;transform:translate(0.43px,0.90px) rotate(0.04deg) scaleX(1.004);">$106,750,000</div>
<div class="t" style="left:475px;top:331px;font-size:7.9px;line-height:9px;color:#408c40;transform:translate(0.33px,0.90px) rotate(0.04deg) scaleX(0.9996);">$43,750,000</div>
<div class="t" style="left:556px;top:331px;font-size:7.9px;line-height:9px;color:#408c40;transform:translate(0.13px,0.90px) rotate(0.04deg) scaleX(1.0069);">$3,937,500</div>
<div class="t" style="left:625px;top:331px;font-size:7.9px;line-height:9px;color:#408c40;transform:translate(0.43px,0.90px) rotate(0.04deg) scaleX(1.0133);">$32,812,500</div>
<div class="t" style="left:712px;top:331px;font-size:7.9px;line-height:9px;color:#408c40;transform:translate(0.43px,0.90px) rotate(0.04deg) scaleX(1.0019);">$26,250,000</div>
<div class="t" style="left:838px;top:331px;font-size:7.9px;line-height:9px;color:#408c40;transform:translate(0.13px,0.90px) rotate(0.04deg) scaleX(1.0789);">$0</div>
<div class="t" style="left:890px;top:331px;font-size:7.9px;line-height:9px;color:#408c40;transform:translate(0.72px,0.90px) rotate(0.04deg) scaleX(1.0065);">$16,625,000</div>
<div class="t" style="left:988px;top:331px;font-size:7.9px;line-height:9px;color:#408c40;transform:translate(0.43px,0.90px) rotate(0.04deg) scaleX(1.0168);">$725,000</div>
<div class="t" style="left:49px;top:342px;font-size:7.9px;line-height:9px;color:#262626;transform:translate(0.30px,0.60px) rotate(0.04deg) scaleX(1.0028);">Total (Actual + Forecast)</div>
<div class="t" style="left:227px;top:342px;font-size:7.9px;line-height:9px;color:#262626;transform:translate(0.33px,0.60px) rotate(0.04deg) scaleX(0.9996);">$43,750,000</div>
<div class="t" style="left:309px;top:342px;font-size:7.9px;line-height:9px;color:#262626;transform:translate(0.33px,0.60px) rotate(0.04deg) scaleX(0.9996);">$63,000,000</div>
<div class="t" style="left:389px;top:342px;font-size:7.9px;line-height:9px;color:#262626;transform:translate(0.43px,0.60px) rotate(0.04deg) scaleX(1.004);">$106,750,000</div>
<div class="t" style="left:475px;top:342px;font-size:7.9px;line-height:9px;color:#262626;transform:translate(0.33px,0.60px) rotate(0.04deg) scaleX(0.9996);">$43,750,000</div>
<div class="t" style="left:556px;top:342px;font-size:7.9px;line-height:9px;color:#262626;transform:translate(0.13px,0.60px) rotate(0.04deg) scaleX(1.0069);">$3,937,500</div>
<div class="t" style="left:625px;top:342px;font-size:7.9px;line-height:9px;color:#262626;transform:translate(0.43px,0.60px) rotate(0.04deg) scaleX(1.0133);">$32,812,500</div>
<div class="t" style="left:712px;top:342px;font-size:7.9px;line-height:9px;color:#262626;transform:translate(0.43px,0.60px) rotate(0.04deg) scaleX(1.0019);">$26,250,000</div>
<div class="t" style="left:838px;top:342px;font-size:7.9px;line-height:9px;color:#262626;transform:translate(0.13px,0.60px) rotate(0.04deg) scaleX(1.0789);">$0</div>
<div class="t" style="left:890px;top:342px;font-size:7.9px;line-height:9px;color:#262626;transform:translate(0.72px,0.60px) rotate(0.04deg) scaleX(1.0065);">$26,000,000</div>
<div class="t" style="left:982px;top:342px;font-size:7.9px;line-height:9px;color:#262626;transform:translate(0.13px,0.60px) rotate(0.04deg) scaleX(1.0069);">$1,100,000</div>
<div class="t" style="left:49px;top:354px;font-size:7.9px;line-height:9px;color:#262626;transform:translate(0.30px,0.60px) rotate(0.04deg) scaleX(0.9868);">As % of Total Fund</div>
<div class="t" style="left:256px;top:354px;font-size:7.9px;line-height:9px;color:#262626;font-style:italic;transform:translate(0.13px,0.60px) rotate(0.04deg) scaleX(0.9542);">44%</div>
<div class="t" style="left:338px;top:354px;font-size:7.9px;line-height:9px;color:#262626;font-style:italic;transform:translate(0.13px,0.60px) rotate(0.04deg) scaleX(0.9542);">63%</div>
<div class="t" style="left:418px;top:354px;font-size:7.9px;line-height:9px;color:#262626;font-style:italic;transform:translate(0.23px,0.60px) rotate(0.04deg) scaleX(0.9746);">107%</div>
<div class="t" style="left:504px;top:354px;font-size:7.9px;line-height:9px;color:#262626;font-style:italic;transform:translate(0.13px,0.60px) rotate(0.04deg) scaleX(0.9542);">44%</div>
<div class="t" style="left:585px;top:354px;font-size:7.9px;line-height:9px;color:#262626;font-style:italic;transform:translate(0.23px,0.60px) rotate(0.04deg) scaleX(0.9358);">4%</div>
<div class="t" style="left:654px;top:354px;font-size:7.9px;line-height:9px;color:#262626;font-style:italic;transform:translate(0.83px,0.60px) rotate(0.04deg) scaleX(0.9542);">33%</div>
<div class="t" style="left:741px;top:354px;font-size:7.9px;line-height:9px;color:#262626;font-style:italic;transform:translate(0.33px,0.60px) rotate(0.04deg) scaleX(0.9542);">26%</div>
<div class="t" style="left:836px;top:354px;font-size:7.9px;line-height:9px;color:#262626;font-style:italic;transform:translate(0.93px,0.60px) rotate(0.04deg) scaleX(0.9358);">0%</div>
<div class="t" style="left:919px;top:354px;font-size:7.9px;line-height:9px;color:#262626;font-style:italic;transform:translate(0.83px,0.60px) rotate(0.04deg) scaleX(0.9542);">26%</div>
<div class="t" style="left:1011px;top:354px;font-size:7.9px;line-height:9px;color:#262626;font-style:italic;transform:translate(0.23px,0.60px) rotate(0.04deg) scaleX(0.9358);">1%</div>
<div class="t" style="left:49px;top:367px;font-size:7.9px;line-height:9px;color:#262626;transform:translate(0.30px,0.00px) rotate(0.04deg) scaleX(1.0069);">As % of Total Invested</div>
<div class="t" style="left:256px;top:367px;font-size:7.9px;line-height:9px;color:#262626;font-style:italic;transform:translate(0.13px,0.00px) rotate(0.04deg) scaleX(0.9542);">41%</div>
<div class="t" style="left:338px;top:367px;font-size:7.9px;line-height:9px;color:#262626;font-style:italic;transform:translate(0.13px,0.00px) rotate(0.04deg) scaleX(0.9542);">59%</div>
<div class="t" style="left:418px;top:367px;font-size:7.9px;line-height:9px;color:#262626;font-style:italic;transform:translate(0.23px,0.00px) rotate(0.04deg) scaleX(0.9746);">100%</div>
<div class="t" style="left:504px;top:367px;font-size:7.9px;line-height:9px;color:#262626;font-style:italic;transform:translate(0.13px,0.00px) rotate(0.04deg) scaleX(0.9542);">41%</div>
<div class="t" style="left:585px;top:367px;font-size:7.9px;line-height:9px;color:#262626;font-style:italic;transform:translate(0.23px,0.00px) rotate(0.04deg) scaleX(0.9358);">4%</div>
<div class="t" style="left:654px;top:367px;font-size:7.9px;line-height:9px;color:#262626;font-style:italic;transform:translate(0.83px,0.00px) rotate(0.04deg) scaleX(0.9542);">31%</div>
<div class="t" style="left:741px;top:367px;font-size:7.9px;line-height:9px;color:#262626;font-style:italic;transform:translate(0.33px,0.00px) rotate(0.04deg) scaleX(0.9542);">25%</div>
<div class="t" style="left:836px;top:367px;font-size:7.9px;line-height:9px;color:#262626;font-style:italic;transform:translate(0.93px,0.00px) rotate(0.04deg) scaleX(0.9358);">0%</div>
<div class="t" style="left:919px;top:367px;font-size:7.9px;line-height:9px;color:#262626;font-style:italic;transform:translate(0.83px,0.00px) rotate(0.04deg) scaleX(0.9542);">24%</div>
<div class="t" style="left:1011px;top:367px;font-size:7.9px;line-height:9px;color:#262626;font-style:italic;transform:translate(0.23px,0.00px) rotate(0.04deg) scaleX(0.9358);">1%</div>
<div style="left:188.00px;top:398.00px;width:167.00px;height:1.00px;background:rgba(52,52,52,0.075);"></div>
<div style="left:188.00px;top:399.00px;width:167.00px;height:1.00px;background:rgba(52,52,52,0.975);"></div>
<div style="left:188.00px;top:469.00px;width:167.00px;height:1.00px;background:rgba(52,52,52,0.975);"></div>
<div style="left:188.00px;top:470.00px;width:167.00px;height:1.00px;background:rgba(52,52,52,0.075);"></div>
<div style="left:187.00px;top:400.00px;width:1.00px;height:69.00px;background:rgba(52,52,52,0.225);"></div>
<div style="left:188.00px;top:400.00px;width:1.00px;height:69.00px;background:rgba(52,52,52,0.825);"></div>
<div style="left:354.00px;top:400.00px;width:1.00px;height:69.00px;background:rgba(52,52,52,0.475);"></div>
<div style="left:355.00px;top:400.00px;width:1.00px;height:69.00px;background:rgba(52,52,52,0.575);"></div>
<div style="left:188.00px;top:410.00px;width:167.00px;height:1.00px;background:rgba(52,52,52,0.275);"></div>
<div style="left:188.00px;top:411.00px;width:167.00px;height:1.00px;background:rgba(52,52,52,0.775);"></div>
<div class="t" style="left:240px;top:401px;font-size:7.9px;line-height:9px;color:#262626;font-weight:bold;-webkit-text-stroke:0;transform:translate(0.09px,0.90px) rotate(0.04deg) scaleX(0.9848);">Cash Flow Model</div>
<div class="t" style="left:190px;top:413px;font-size:7.9px;line-height:9px;color:#262626;font-weight:bold;-webkit-text-stroke:0;transform:translate(0.15px,0.80px) rotate(0.04deg) scaleX(1.0464);">Max out date</div>
<div class="t" style="left:315px;top:413px;font-size:7.9px;line-height:9px;color:#348334;font-weight:bold;-webkit-text-stroke:0;transform:translate(0.13px,0.80px) rotate(0.04deg) scaleX(1.0816);">3/31/2029</div>
<div class="t" style="left:196px;top:425px;font-size:7.9px;line-height:9px;color:#262626;transform:translate(0.75px,0.20px) rotate(0.04deg) scaleX(1.0391);">Months remaining</div>
<div class="t" style="left:344px;top:425px;font-size:7.9px;line-height:9px;color:#262626;transform:translate(0.63px,0.20px) rotate(0.04deg) scaleX(0.965);">51</div>
<div class="t" style="left:196px;top:437px;font-size:7.9px;line-height:9px;color:#262626;transform:translate(0.75px,0.50px) rotate(0.04deg) scaleX(1.0093);">Qs remaining</div>
<div class="t" style="left:344px;top:437px;font-size:7.9px;line-height:9px;color:#262626;transform:translate(0.63px,0.50px) rotate(0.04deg) scaleX(0.965);">17</div>
<div class="t" style="left:190px;top:448px;font-size:7.9px;line-height:9px;color:#262626;transform:translate(0.15px,0.90px) rotate(0.04deg) scaleX(1.0049);">Recycled at max-out</div>
<div class="t" style="left:331px;top:448px;font-size:7.9px;line-height:9px;color:#408c40;transform:translate(0.13px,0.90px) rotate(0.04deg) scaleX(0.9821);">82.4%</div>
<div class="t" style="left:190px;top:459px;font-size:7.9px;line-height:9px;color:#262626;transform:translate(0.15px,0.80px) rotate(0.04deg) scaleX(1.0331);">Target recycling hit</div>
<div class="t" style="left:315px;top:459px;font-size:7.9px;line-height:9px;color:#408c40;transform:translate(0.62px,0.80px) rotate(0.04deg) scaleX(1.0674);">3/31/2032</div>
<svg style="left:351.30px;top:411.6px" width="3.2" height="3.2" viewBox="0 0 3 3"><polygon points="0,0 3,0 3,3" fill="#1a1a1a"/></svg>
<div style="left:757.00px;top:398.00px;width:180.00px;height:1.00px;background:rgba(52,52,52,0.075);"></div>
<div style="left:757.00px;top:399.00px;width:180.00px;height:1.00px;background:rgba(52,52,52,0.975);"></div>
<div style="left:757.00px;top:469.00px;width:180.00px;height:1.00px;background:rgba(52,52,52,0.975);"></div>
<div style="left:757.00px;top:470.00px;width:180.00px;height:1.00px;background:rgba(52,52,52,0.075);"></div>
<div style="left:757.00px;top:400.00px;width:1.00px;height:69.00px;background:rgba(52,52,52,0.625);"></div>
<div style="left:758.00px;top:400.00px;width:1.00px;height:69.00px;background:rgba(52,52,52,0.425);"></div>
<div style="left:936.00px;top:400.00px;width:1.00px;height:69.00px;background:rgba(52,52,52,0.875);"></div>
<div style="left:937.00px;top:400.00px;width:1.00px;height:69.00px;background:rgba(52,52,52,0.175);"></div>
<div style="left:758.00px;top:410.00px;width:178.00px;height:1.00px;background:rgba(52,52,52,0.275);"></div>
<div style="left:758.00px;top:411.00px;width:178.00px;height:1.00px;background:rgba(52,52,52,0.775);"></div>
<div class="t" style="left:801px;top:401px;font-size:7.9px;line-height:9px;color:#262626;font-weight:bold;-webkit-text-stroke:0;transform:translate(0.19px,0.90px) rotate(0.04deg) scaleX(1.0041);">Investable Capital Model</div>
<div class="t" style="left:759px;top:413px;font-size:7.9px;line-height:9px;color:#262626;font-weight:bold;-webkit-text-stroke:0;transform:translate(0.75px,0.80px) rotate(0.04deg) scaleX(1.0464);">Max out date</div>
<div class="t" style="left:892px;top:413px;font-size:7.9px;line-height:9px;color:#348334;font-weight:bold;-webkit-text-stroke:0;transform:translate(0.23px,0.80px) rotate(0.04deg) scaleX(1.0753);">12/31/2028</div>
<div class="t" style="left:766px;top:425px;font-size:7.9px;line-height:9px;color:#262626;transform:translate(0.35px,0.20px) rotate(0.04deg) scaleX(1.0391);">Months remaining</div>
<div class="t" style="left:925px;top:425px;font-size:7.9px;line-height:9px;color:#262626;transform:translate(0.83px,0.20px) rotate(0.04deg) scaleX(1.0106);">48</div>
<div class="t" style="left:766px;top:437px;font-size:7.9px;line-height:9px;color:#262626;transform:translate(0.35px,0.50px) rotate(0.04deg) scaleX(1.0093);">Qs remaining</div>
<div class="t" style="left:926px;top:437px;font-size:7.9px;line-height:9px;color:#262626;transform:translate(0.03px,0.50px) rotate(0.04deg) scaleX(0.9878);">16</div>
<div class="t" style="left:759px;top:448px;font-size:7.9px;line-height:9px;color:#262626;transform:translate(0.75px,0.90px) rotate(0.04deg) scaleX(1.0049);">Recycled at max-out</div>
<div class="t" style="left:912px;top:448px;font-size:7.9px;line-height:9px;color:#408c40;transform:translate(0.73px,0.90px) rotate(0.04deg) scaleX(0.9821);">77.7%</div>
<div class="t" style="left:759px;top:459px;font-size:7.9px;line-height:9px;color:#262626;transform:translate(0.75px,0.80px) rotate(0.04deg) scaleX(1.0331);">Target recycling hit</div>
<div class="t" style="left:897px;top:459px;font-size:7.9px;line-height:9px;color:#408c40;transform:translate(0.22px,0.80px) rotate(0.04deg) scaleX(1.0674);">3/31/2032</div>
<svg style="left:932.90px;top:411.6px" width="3.2" height="3.2" viewBox="0 0 3 3"><polygon points="0,0 3,0 3,3" fill="#1a1a1a"/></svg>
<div style="left:33.00px;top:495.00px;width:448.00px;height:1.00px;background:rgba(212,212,212,0.300);"></div>
<div style="left:33.00px;top:496.00px;width:448.00px;height:1.00px;background:rgba(212,212,212,1.000);"></div>
<div style="left:33.00px;top:497.00px;width:448.00px;height:1.00px;background:rgba(212,212,212,0.200);"></div>
<div style="left:33.00px;top:496.00px;width:1.00px;height:74.00px;background:rgba(212,212,212,0.700);"></div>
<div style="left:34.00px;top:496.00px;width:1.00px;height:74.00px;background:rgba(212,212,212,0.800);"></div>
<div style="left:479.00px;top:496.00px;width:1.00px;height:74.00px;background:rgba(212,212,212,0.700);"></div>
<div style="left:480.00px;top:496.00px;width:1.00px;height:74.00px;background:rgba(212,212,212,0.800);"></div>
<div style="left:71.00px;top:522.00px;width:400.00px;height:1.00px;background:rgba(222,222,222,0.050);"></div>
<div style="left:71.00px;top:523.00px;width:400.00px;height:1.00px;background:rgba(222,222,222,0.950);"></div>
<div class="t" style="left:236px;top:507px;font-size:6.4px;line-height:7px;color:#6a6a6a;transform:translate(0.31px,0.20px) rotate(0.04deg) scaleX(1.0399);">Cash Balance</div>
<div class="t" style="left:46px;top:521px;font-size:3.6px;line-height:4px;color:#8c8c8c;transform:translate(0.68px,0.50px) rotate(0.04deg) scaleX(1.201);-webkit-text-stroke:0;">20000000</div>
<svg style="left:0;top:0" width="1024" height="568" viewBox="0 0 1024 568"><path d="M72.5 523.8 L110 526.2 L150 528.8 L190 531.4 L207 532.6 C214 533.2 220 534.6 228 537.6 C236 540.8 242 544.4 248 546.6 L256 549.6 C262 552.0 268 554.6 273.5 557.2 L290 570" fill="none" stroke="#496eb6" stroke-width="2.0" stroke-linejoin="round" stroke-linecap="round"/></svg>
<div style="left:579.00px;top:495.00px;width:462.00px;height:1.00px;background:rgba(212,212,212,0.300);"></div>
<div style="left:579.00px;top:496.00px;width:462.00px;height:1.00px;background:rgba(212,212,212,1.000);"></div>
<div style="left:579.00px;top:497.00px;width:462.00px;height:1.00px;background:rgba(212,212,212,0.200);"></div>
<div style="left:579.00px;top:496.00px;width:1.00px;height:74.00px;background:rgba(212,212,212,0.700);"></div>
<div style="left:580.00px;top:496.00px;width:1.00px;height:74.00px;background:rgba(212,212,212,0.800);"></div>
<div style="left:616.00px;top:522.00px;width:400.00px;height:1.00px;background:rgba(222,222,222,0.050);"></div>
<div style="left:616.00px;top:523.00px;width:400.00px;height:1.00px;background:rgba(222,222,222,0.950);"></div>
<div style="left:616.00px;top:551.00px;width:400.00px;height:1.00px;background:rgba(222,222,222,0.050);"></div>
<div style="left:616.00px;top:552.00px;width:400.00px;height:1.00px;background:rgba(222,222,222,0.950);"></div>
<div class="t" style="left:775px;top:507px;font-size:6.4px;line-height:7px;color:#6a6a6a;transform:translate(0.56px,0.20px) rotate(0.04deg) scaleX(1.0801);">Investable Capital</div>
<div class="t" style="left:594px;top:521px;font-size:3.6px;line-height:4px;color:#8c8c8c;transform:translate(0.28px,0.50px) rotate(0.04deg) scaleX(1.1073);-webkit-text-stroke:0;">75000000</div>
<div class="t" style="left:594px;top:550px;font-size:3.6px;line-height:4px;color:#8c8c8c;transform:translate(0.28px,0.50px) rotate(0.04deg) scaleX(1.1073);-webkit-text-stroke:0;">50000000</div>
<svg style="left:0;top:0" width="1024" height="568" viewBox="0 0 1024 568"><path d="M619 526 L753 526 C760 526 764 527 770 529.2 C778 532.4 784 535.6 792 538.2 L802 541.6 L819 550 L842 569" fill="none" stroke="#496eb6" stroke-width="2.0" stroke-linejoin="round" stroke-linecap="round"/></svg>
<div style="left:3.8px;top:558.0px;width:31.2px;height:31.2px;border-radius:50%;background:#4c4ce6;"></div>
<div style="left:18.6px;top:565.2px;width:1.4px;height:4px;background:#fff;"></div>
</div>
</body>
</html>
